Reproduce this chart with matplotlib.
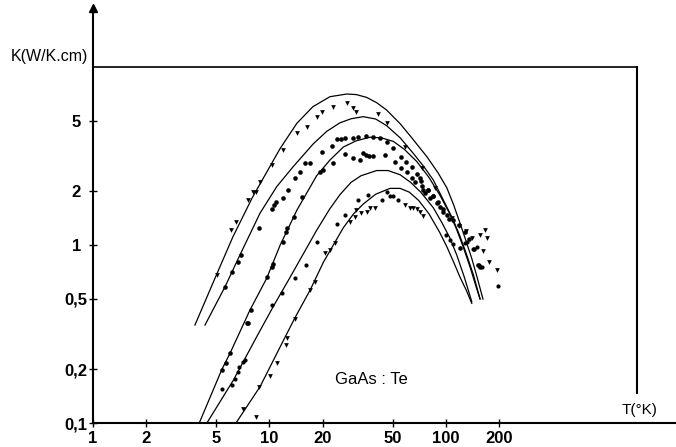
import matplotlib
matplotlib.use('Agg')
import matplotlib.pyplot as plt
from matplotlib.ticker import NullLocator

# theoretical curves, T in K and K in W/K.cm
curve1_T = [3.78, 5.0, 6.2, 8.0, 9.8, 11.5, 14.3, 17.6, 22.0, 27.4, 31.0, 35.5, 40.5, 46.1, 55.0, 64.0,
            78.0, 90.0, 101, 110, 120, 130, 140, 150, 162]
curve1_K = [0.355, 0.678, 1.11, 1.85, 2.64, 3.49, 4.83, 5.98, 6.81, 7.05, 7.0, 6.75, 6.3, 5.73, 4.8, 4.0,
            3.13, 2.55, 2.1, 1.7, 1.33, 1.05, 0.84, 0.66, 0.497]

curve2_T = [4.31, 5.6, 6.8, 8.84, 11.0, 13.6, 17.7, 21.1, 25.0, 29.0, 34.0, 40.0, 46.1, 55.0, 65.3, 75.0,
            84.7, 95.0, 110, 120, 130, 143, 156]
curve2_K = [0.355, 0.583, 0.879, 1.51, 2.13, 2.75, 3.7, 4.35, 4.85, 5.12, 5.26, 5.1, 4.68, 4.0, 3.27, 2.75,
            2.32, 1.85, 1.38, 1.12, 0.9, 0.68, 0.497]

curve3_T = [4.0, 5.36, 5.97, 7.75, 9.64, 11.5, 14.3, 18.5, 22.0, 26.2, 31.0, 37.1, 43.0, 50.3, 58.0, 68.2,
            80.0, 92.5, 105, 115, 125, 137, 150, 156]
curve3_K = [0.1, 0.199, 0.246, 0.431, 0.65, 1.0, 1.57, 2.45, 3.0, 3.55, 3.85, 4.03, 4.0, 3.82, 3.45, 2.95,
            2.4, 1.9, 1.5, 1.22, 0.98, 0.75, 0.56, 0.497]

curve4_T = [4.42, 6.24, 8.46, 10.5, 13.1, 18.5, 22.0, 25.1, 29.0, 33.0, 40.5, 47.0, 55.0, 63.0, 72.0, 84.7,
            95.0, 105, 115, 127, 140]
curve4_K = [0.1, 0.174, 0.305, 0.451, 0.66, 1.21, 1.6, 1.92, 2.25, 2.45, 2.62, 2.62, 2.48, 2.25, 1.98, 1.62,
            1.33, 1.1, 0.88, 0.66, 0.48]

curve5_T = [6.46, 8.84, 11.5, 13.9, 17.0, 20.2, 26.2, 30.0, 34.0, 40.0, 48.2, 55.0, 62.0, 70.0, 80.0, 92.0,
            101, 110, 120, 130, 140]
curve5_K = [0.1, 0.160, 0.268, 0.388, 0.559, 0.80, 1.25, 1.5, 1.70, 1.93, 2.08, 2.08, 1.98, 1.78, 1.50, 1.18,
            0.98, 0.81, 0.66, 0.56, 0.47]

# measured points
s1_T = [5.04, 6.05, 6.46, 7.55, 8.06, 8.38, 8.83, 10.3, 11.9, 14.3, 16.3, 18.6, 19.8, 22.9, 27.5, 29.7,
        30.9, 41.2, 46.3, 58.6, 73.1, 86.6, 108, 119, 130, 140, 156, 166, 171, 162, 175, 194]
s1_K = [0.678, 1.21, 1.35, 1.79, 1.99, 1.99, 2.26, 2.81, 3.42, 4.26, 4.60, 5.24, 5.59, 5.96, 6.28, 5.89,
        5.59, 5.45, 4.85, 3.55, 2.71, 2.09, 1.42, 1.28, 1.20, 1.09, 1.14, 1.21, 1.09, 0.925, 0.803, 0.724]

s2_T = [5.60, 6.13, 6.63, 6.90, 8.72, 10.3, 10.6, 10.9, 11.9, 12.7, 13.9, 14.9, 15.9, 16.9, 19.8, 22.6,
        24.1, 25.4, 26.8, 29.7, 31.7, 35.2, 38.6, 42.3, 46.3, 50.1, 55.6, 59.3, 64.2, 68.5, 72.0, 78.9,
        84.2, 90.0, 96.2, 104, 110, 119, 128, 135]
s2_K = [0.581, 0.705, 0.803, 0.879, 1.25, 1.59, 1.68, 1.74, 1.84, 2.04, 2.38, 2.57, 2.89, 2.89, 3.33, 3.60,
        3.94, 3.94, 3.99, 3.99, 4.04, 4.10, 4.04, 3.99, 3.79, 3.51, 3.12, 2.93, 2.74, 2.52, 2.30, 2.04,
        1.89, 1.74, 1.60, 1.40, 1.38, 1.29, 1.19, 1.08]

s3_T = [5.36, 5.67, 5.97, 7.43, 7.57, 7.83, 9.64, 10.3, 10.5, 11.9, 12.4, 12.6, 13.8, 15.2, 19.3, 20.1,
        22.9, 26.8, 29.7, 32.6, 33.9, 35.2, 36.6, 38.6, 45.1, 51.4, 55.6, 60.1, 64.2, 66.7, 71.2, 73.1,
        74.0, 75.8, 78.9, 81.1, 84.2, 88.9, 92.5, 96.2, 101, 120, 144, 152, 156]
s3_K = [0.199, 0.218, 0.246, 0.366, 0.363, 0.431, 0.664, 0.749, 0.779, 1.04, 1.19, 1.24, 1.44, 1.87, 2.58, 2.64,
        2.88, 3.25, 3.08, 3.00, 3.29, 3.20, 3.16, 3.16, 3.20, 2.93, 2.71, 2.57, 2.38, 2.26, 2.38, 2.14,
        2.04, 1.96, 2.04, 1.84, 1.89, 1.72, 1.63, 1.53, 1.47, 0.96, 0.95, 0.77, 0.75]

s4_T = [5.41, 6.11, 6.38, 6.66, 6.76, 7.11, 7.25, 10.3, 11.7, 13.9, 16.2, 18.5, 24.0, 26.8, 31.9, 36.3,
        43.2, 46.1, 48.2, 50.1, 53.7, 99.6, 105, 110, 128, 132, 142, 150, 154, 159, 198]
s4_K = [0.155, 0.163, 0.176, 0.194, 0.207, 0.221, 0.226, 0.460, 0.540, 0.650, 0.772, 1.04, 1.32, 1.47, 1.79, 1.91,
        1.79, 1.99, 1.885, 1.885, 1.79, 1.14, 1.06, 1.01, 1.03, 1.04, 0.95, 0.975, 0.772, 0.752, 0.589]

s5_T = [7.11, 8.38, 8.72, 10.1, 11.0, 12.4, 12.5, 13.9, 16.9, 18.1, 20.6, 22.0, 23.5, 28.6, 30.5, 31.1,
        33.2, 35.5, 37.1, 39.6, 58.6, 62.5, 65.3, 68.2, 71.2, 74.3]
s5_K = [0.120, 0.108, 0.159, 0.184, 0.216, 0.274, 0.299, 0.383, 0.559, 0.622, 0.905, 0.937, 1.02, 1.35, 1.44, 1.57,
        1.51, 1.54, 1.61, 1.61, 1.68, 1.61, 1.62, 1.59, 1.54, 1.46]

x_ticks = [1, 2, 5, 10, 20, 50, 100, 200]
x_labels = ['1', '2', '5', '10', '20', '50', '100', '200']
y_ticks = [0.1, 0.2, 0.5, 1, 2, 5]
y_labels = ['0,1', '0,2', '0,5', '1', '2', '5']

fig = plt.figure(figsize=(6.76, 4.47), dpi=100)
ax = fig.add_axes([93 / 676, 24 / 447, 583 / 676, 415 / 447])
ax.set_xscale('log')
ax.set_yscale('log')
ax.set_xlim(1, 2010)
ax.set_ylim(0.1, 21.45)

for s in ['top', 'right']:
    ax.spines[s].set_visible(False)
ax.spines['left'].set_linewidth(1.5)
ax.spines['bottom'].set_linewidth(1.5)

# upper and right frame lines
ax.plot([1, 1208], [10, 10], color='k', lw=1.2, clip_on=False)
ax.plot([1208, 1208], [10, 0.147], color='k', lw=1.5, clip_on=False)
# arrow head on the K axis
ax.plot([1], [21.45], marker='^', ms=6, color='k', clip_on=False)

for T, K in [(curve1_T, curve1_K), (curve2_T, curve2_K), (curve3_T, curve3_K),
             (curve4_T, curve4_K), (curve5_T, curve5_K)]:
    ax.plot(T, K, color='k', lw=0.9)

ax.plot(s1_T, s1_K, 'v', color='k', ms=3.4, mew=0)
ax.plot(s2_T, s2_K, 'o', color='k', ms=3.3, mew=0)
ax.plot(s3_T, s3_K, 'o', color='k', ms=3.3, mew=0)
ax.plot(s4_T, s4_K, 'o', color='k', ms=3.0, mew=0)
ax.plot(s5_T, s5_K, 'v', color='k', ms=3.4, mew=0)

ax.xaxis.set_minor_locator(NullLocator())
ax.yaxis.set_minor_locator(NullLocator())
ax.set_xticks(x_ticks)
ax.set_xticklabels(x_labels)
ax.set_yticks(y_ticks)
ax.set_yticklabels(y_labels)
ax.tick_params(axis='both', direction='inout', length=6, width=1)
ax.tick_params(axis='x', pad=3)
ax.tick_params(axis='y', pad=9)
for lbl in ax.get_xticklabels() + ax.get_yticklabels():
    lbl.set_fontfamily('Liberation Sans')
    lbl.set_fontweight('bold')
    lbl.set_fontsize(12)
for lbl in ax.get_yticklabels():
    lbl.set_horizontalalignment('center')

ax.text(37.6, 0.175, 'GaAs : Te', ha='center', va='center', fontsize=12,
        family='Liberation Sans')
fig.text(88 / 676, 1 - 57 / 447, 'K(W/K.cm)', ha='right', va='center', fontsize=11.5,
         family='Liberation Sans')
fig.text(640 / 676, 1 - 410 / 447, 'T(°K)', ha='center', va='center', fontsize=11,
         family='Liberation Sans')

fig.savefig('out.png', dpi=100)
